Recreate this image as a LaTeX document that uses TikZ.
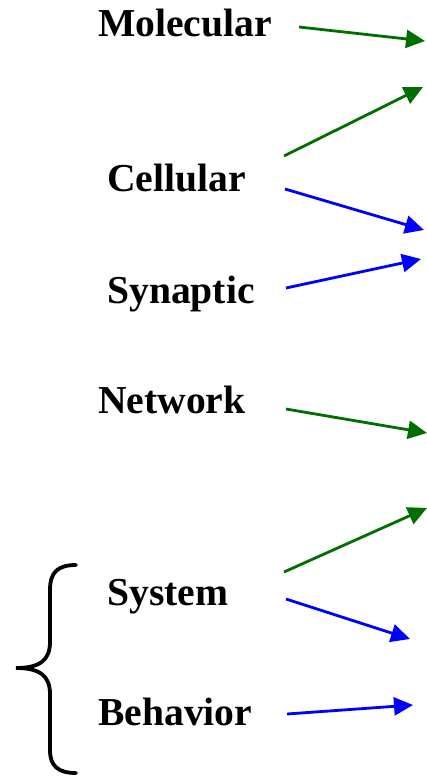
\documentclass[tikz,border=0pt]{standalone}
\usepackage{fontspec}
\setmainfont{Liberation Serif}
\usetikzlibrary{arrows.meta}
\definecolor{dgreen}{RGB}{0,110,0}
\definecolor{ablue}{RGB}{0,0,255}
\tikzset{
  lbl/.style={anchor=base west, inner sep=0pt, font=\fontsize{39.6}{44}\selectfont\bfseries},
  garrow/.style={draw=dgreen, line width=2.8pt, -{Triangle[length=19pt,width=18pt]}, fill=dgreen},
  barrow/.style={draw=ablue, line width=2.8pt, -{Triangle[length=19pt,width=18pt]}, fill=ablue},
  bracestyle/.style={draw=black, line width=3.8pt, line cap=round}
}
\begin{document}
\begin{tikzpicture}[x=1pt,y=-1pt]
\useasboundingbox (0,0) rectangle (427,776);
\node[lbl] (mol) at (98,37) {Molecular};
\node[lbl] (cel) at (107,191) {Cellular};
\node[lbl] (syn) at (107,303) {Synaptic};
\node[lbl] (net) at (98,413) {Network};
\node[lbl] (sys) at (107,605) {System};
\node[lbl] (beh) at (98,725) {Behavior};
% start and end points
\coordinate (m1) at (299,27); \coordinate (m2) at (425,41);
\coordinate (c1) at (284,156); \coordinate (c2) at (423,87);
\coordinate (c3) at (285,189); \coordinate (c4) at (424,230);
\coordinate (s1) at (286,288); \coordinate (s2) at (421,259);
\coordinate (n1) at (286,409); \coordinate (n2) at (427,433);
\coordinate (y1) at (284,572); \coordinate (y2) at (427,508);
\coordinate (y3) at (286,599); \coordinate (y4) at (410,639);
\coordinate (b1) at (287,714); \coordinate (b2) at (413,705);
\draw[garrow] (m1) -- (m2);
\draw[garrow] (c1) -- (c2);
\draw[barrow] (c3) -- (c4);
\draw[barrow] (s1) -- (s2);
\draw[garrow] (n1) -- (n2);
\draw[garrow] (y1) -- (y2);
\draw[barrow] (y3) -- (y4);
\draw[barrow] (b1) -- (b2);
% brace
\coordinate (bt) at (76,565);
\coordinate (bm) at (16,668);
\coordinate (bb) at (76,773);
\draw[bracestyle] (bt) .. controls (58,565) and (50,572) .. (50,590)
  -- (50,642) .. controls (50,660) and (40,668) .. (bm)
  .. controls (40,668) and (50,676) .. (50,694)
  -- (50,750) .. controls (50,766) and (58,773) .. (bb);
\end{tikzpicture}
\end{document}
